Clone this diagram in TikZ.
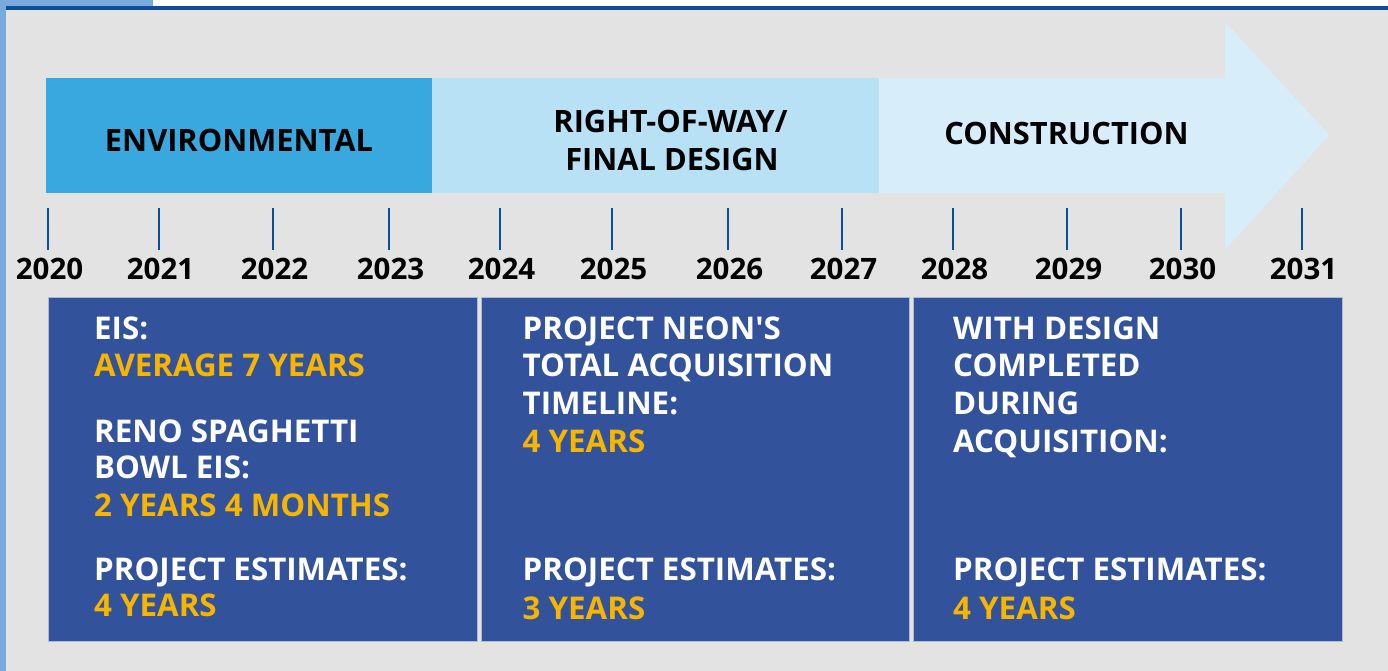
\documentclass[tikz,border=0pt]{standalone}
\usepackage{fontspec}
\setmainfont{Open Sans}[Ligatures=TeXOff]
\definecolor{bggray}{HTML}{E4E3E4}
\definecolor{lightstrip}{HTML}{7AAADC}
\definecolor{darkline}{HTML}{0B4F9C}
\definecolor{envblue}{HTML}{39A8DE}
\definecolor{rowblue}{HTML}{B8E1F6}
\definecolor{conblue}{HTML}{D8EDFA}
\definecolor{panelblue}{HTML}{33529C}
\definecolor{paneledge}{HTML}{AEB9D6}
\definecolor{gold}{HTML}{F7B500}
\tikzset{
  txt/.style={inner sep=0pt, font=\fontsize{31.3}{36}\selectfont\bfseries},
  wline/.style={txt, anchor=base west, text=white},
  gline/.style={txt, anchor=base west, text=gold},
  head/.style={inner sep=0pt, font=\fontsize{30.8}{36}\selectfont\bfseries, anchor=base, text=black},
  year/.style={inner sep=0pt, font=\fontsize{29.5}{36}\selectfont\bfseries, anchor=base, text=black},
  tick/.style={draw=darkline, line width=2.4pt},
  panel/.style={fill=panelblue}
}
\begin{document}
\begin{tikzpicture}[x=1pt,y=-1pt]
\useasboundingbox (0,0) rectangle (1388,671);
% background
\fill[bggray] (0,0) rectangle (1388,671);
\fill[white] (153,0) rectangle (1388,6);
\fill[lightstrip] (0,0) rectangle (153,6);
\fill[lightstrip] (0,0) rectangle (6,671);
\fill[darkline] (6,6) rectangle (1388,10);
% arrow
\fill[envblue] (46,78) rectangle (432,193);
\fill[rowblue] (432,78) rectangle (879,193);
\fill[conblue] (879,78) -- (1225,78) -- (1225,22) -- (1329,135) -- (1225,250) -- (1225,193) -- (879,193) -- cycle;
\node[head] (henv) at (239,151.5) {ENVIRONMENTAL};
\node[head] (hrow1) at (670.5,133) {RIGHT-OF-WAY/};
\node[head] (hrow2) at (672,171) {FINAL DESIGN};
\node[head] (hcon) at (1066.5,145) {CONSTRUCTION};
% ticks and years
\foreach \x/\yr in {48/2020,159/2021,273/2022,389/2023,500/2024,612/2025,728/2026,842/2027,953/2028,1067/2029,1181/2030,1302/2031}{
  \coordinate (t\yr a) at (\x,208);
  \coordinate (t\yr b) at (\x,250);
  \draw[tick] (t\yr a) -- (t\yr b);
  \node[year] (y\yr) at (\x+1.5,279) {\yr};
}
% panels
\fill[panel] (48,297) rectangle (477,641);
\fill[panel] (481,297) rectangle (909,641);
\fill[panel] (913,297) rectangle (1342,641);
\draw[paneledge, line width=0.8pt] (48,297) rectangle (477,641);
\draw[paneledge, line width=0.8pt] (481,297) rectangle (909,641);
\draw[paneledge, line width=0.8pt] (913,297) rectangle (1342,641);
% panel 1 text
\node[wline] (a1) at (94,339) {EIS:};
\node[gline] (a2) at (94,376) {AVERAGE 7 YEARS};
\node[wline] (a3) at (94,442) {RENO SPAGHETTI};
\node[wline] (a4) at (94,478) {BOWL EIS:};
\node[gline] (a5) at (94,516) {2 YEARS 4 MONTHS};
\node[wline] (a6) at (94,580) {PROJECT ESTIMATES:};
\node[gline] (a7) at (94,616) {4 YEARS};
% panel 2 text
\node[wline] (b1) at (522.5,339) {PROJECT NEON'S};
\node[wline] (b2) at (522.5,376) {TOTAL ACQUISITION};
\node[wline] (b3) at (522.5,414) {TIMELINE:};
\node[gline] (b4) at (522.5,452) {4 YEARS};
\node[wline] (b5) at (522.5,580) {PROJECT ESTIMATES:};
\node[gline] (b6) at (522.5,619) {3 YEARS};
% panel 3 text
\node[wline] (c1) at (953,339) {WITH DESIGN};
\node[wline] (c2) at (953,376) {COMPLETED};
\node[wline] (c3) at (953,414) {DURING};
\node[wline] (c4) at (953,452) {ACQUISITION:};
\node[wline] (c5) at (953,580) {PROJECT ESTIMATES:};
\node[gline] (c6) at (953,619) {4 YEARS};
\end{tikzpicture}
\end{document}
